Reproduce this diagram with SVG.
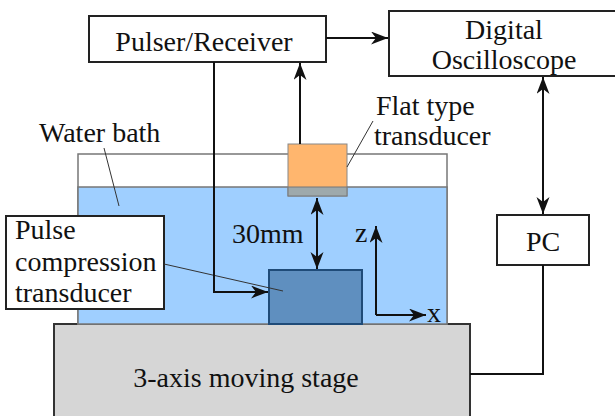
<svg xmlns="http://www.w3.org/2000/svg" width="615" height="416" viewBox="0 0 615 416">
<style>
text{font-family:'Liberation Serif','Times New Roman',Times,serif;font-size:28px;fill:#111}
.box{fill:#fff;stroke:#222;stroke-width:2}
.wire{fill:none;stroke:#111;stroke-width:2}
.lead{fill:none;stroke:#333;stroke-width:1}
</style>
<defs>
<marker id="ah" markerUnits="userSpaceOnUse" markerWidth="20" markerHeight="14" refX="17" refY="6.5" orient="auto-start-reverse">
<path d="M0,0 L17,6.5 L0,13 L5,6.5 z" fill="#111"/>
</marker>
</defs>
<g id="stage">
<rect x="54" y="324" width="416" height="100" fill="#d6d6d6" stroke="#333" stroke-width="2"/>
<text x="246" y="387" text-anchor="middle" font-family="Liberation Serif, serif">3-axis moving stage</text>
</g>
<g id="water-bath">
<rect x="78" y="154" width="369" height="170" fill="#fff" stroke="#777" stroke-width="1.5"/>
<rect x="78" y="187" width="369" height="137" fill="#9fcfff" stroke="#777" stroke-width="1.5"/>
<text x="39" y="142" font-family="Liberation Serif, serif">Water bath</text>
<line class="lead" x1="104" y1="148" x2="119" y2="206"/>
</g>
<g id="flat-transducer">
<rect x="288" y="144" width="59" height="52" fill="#ffb66e" stroke="#888" stroke-width="1"/>
<rect x="288" y="187" width="59" height="9" fill="#9ea9ab" stroke="#777" stroke-width="1"/>
<text x="376" y="115" font-family="Liberation Serif, serif">Flat type</text>
<text x="374" y="145" font-family="Liberation Serif, serif">transducer</text>
<line class="lead" x1="347" y1="167" x2="373" y2="121"/>
</g>
<g id="pc-transducer">
<rect x="269" y="270" width="93" height="54" fill="#5f8fbf" stroke="#1f4b78" stroke-width="2"/>
</g>
<g id="pulse-label">
<rect class="box" x="6" y="216" width="158" height="93"/>
<text x="15" y="239" font-family="Liberation Serif, serif">Pulse</text>
<text x="15" y="271" font-family="Liberation Serif, serif">compression</text>
<text x="15" y="302" font-family="Liberation Serif, serif">transducer</text>
<line class="lead" x1="164" y1="264" x2="283" y2="291"/>
</g>
<g id="pulser">
<rect class="box" x="89" y="16" width="237" height="46"/>
<text x="204" y="51" text-anchor="middle" font-family="Liberation Serif, serif">Pulser/Receiver</text>
</g>
<g id="oscilloscope">
<rect class="box" x="389" y="11" width="240" height="65"/>
<text x="504" y="39" text-anchor="middle" font-family="Liberation Serif, serif">Digital</text>
<text x="504" y="69" text-anchor="middle" font-family="Liberation Serif, serif">Oscilloscope</text>
</g>
<g id="pc">
<rect class="box" x="497" y="215" width="92" height="50"/>
<text x="543" y="251" text-anchor="middle" font-family="Liberation Serif, serif">PC</text>
</g>
<g id="axes">
<path class="wire" d="M376,315 V226" marker-end="url(#ah)"/>
<path class="wire" d="M376,315 H426" marker-end="url(#ah)"/>
<text x="355" y="242" font-family="Liberation Serif, serif">z</text>
<text x="427" y="322" font-family="Liberation Serif, serif">x</text>
</g>
<g id="connectors">
<path class="wire" d="M326,38 H388" marker-end="url(#ah)"/>
<path class="wire" d="M214,62 V292 H268" marker-end="url(#ah)"/>
<path class="wire" d="M300,144 V63" marker-end="url(#ah)"/>
<path class="wire" d="M317,198 V269" marker-start="url(#ah)" marker-end="url(#ah)"/>
<text x="232" y="243" font-family="Liberation Serif, serif">30mm</text>
<path class="wire" d="M543,77 V214" marker-start="url(#ah)" marker-end="url(#ah)"/>
<path class="wire" d="M543,265 V374 H470"/>
</g>
</svg>
